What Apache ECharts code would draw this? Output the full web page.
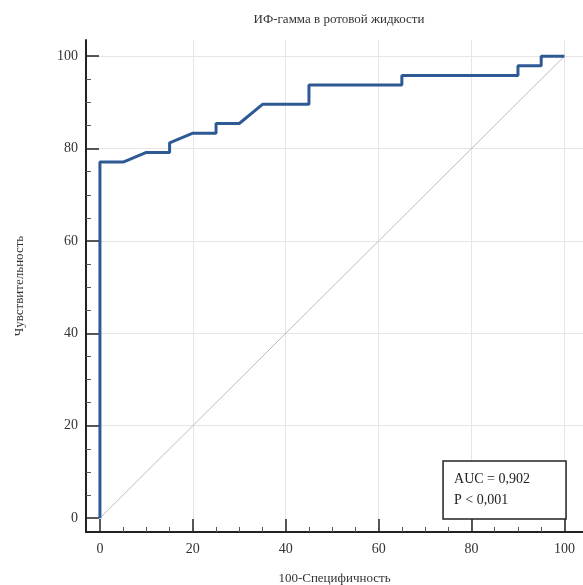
<!DOCTYPE html>
<html>
<head>
<meta charset="utf-8">
<script src="https://cdn.jsdelivr.net/npm/echarts@6/dist/echarts.min.js"></script>
<style>
  html, body { margin: 0; padding: 0; background: #fff; }
  #chart { width: 583px; height: 585px; }
</style>
</head>
<body>
<div id="chart"></div>
<script>
// ROC curve points: 100-Specificity (x) and Sensitivity (y)
var fpr = [0, 0, 5, 10, 15, 15, 20, 25, 25, 30, 35, 45, 45, 65, 65, 90, 90, 95, 95, 100];
var tpr = [0, 77.08, 77.08, 79.17, 79.17, 81.25, 83.33, 83.33, 85.42, 85.42, 89.58, 89.58, 93.75, 93.75, 95.83, 95.83, 97.92, 97.92, 100, 100];
var diagX = [0, 100];
var diagY = [0, 100];
var majorTicks = [0, 20, 40, 60, 80, 100];
var minorTicks = [5, 10, 15, 25, 30, 35, 45, 50, 55, 65, 70, 75, 85, 90, 95];
var gridTicks = [20, 40, 60, 80, 100];
var statLines = ['AUC = 0,902', 'P < 0,001'];

var serif = '"Liberation Serif", "DejaVu Serif", serif';

var rocData = [];
for (var i = 0; i < fpr.length; i++) {
    rocData.push([fpr[i], tpr[i]]);
}
var diagData = [];
for (var i = 0; i < diagX.length; i++) {
    diagData.push([diagX[i], diagY[i]]);
}

function mainAxis(isX) {
    return {
        type: 'value',
        min: -3,
        max: isX ? 104 : 103.5,
        position: isX ? 'bottom' : 'left',
        offset: 0,
        name: isX ? '100-Специфичность' : 'Чувствительность',
        nameLocation: 'middle',
        nameGap: isX ? 40 : 60,
        nameTextStyle: { fontFamily: serif, fontSize: 13, color: '#333' },
        axisLine: { show: true, onZero: false, lineStyle: { color: '#222', width: 2 } },
        axisTick: {
            show: true, inside: true, length: 13, customValues: majorTicks,
            lineStyle: { color: '#222', width: 1.5 }
        },
        axisLabel: {
            customValues: majorTicks, margin: isX ? 10 : 8,
            fontFamily: serif, fontSize: 14, color: '#333'
        },
        splitLine: { show: false }
    };
}

function minorAxis(isX) {
    return {
        type: 'value',
        min: -3,
        max: isX ? 104 : 103.5,
        position: isX ? 'bottom' : 'left',
        offset: 0,
        axisLine: { show: false, onZero: false },
        axisTick: {
            show: true, inside: true, length: 5, customValues: minorTicks,
            lineStyle: { color: '#555', width: 1 }
        },
        axisLabel: { show: false, customValues: minorTicks },
        splitLine: { show: false }
    };
}

function gridAxis(isX) {
    return {
        type: 'value',
        min: -3,
        max: isX ? 104 : 103.5,
        position: isX ? 'bottom' : 'left',
        offset: 0,
        axisLine: { show: false, onZero: false },
        axisTick: { show: false, customValues: gridTicks },
        axisLabel: { show: false, customValues: gridTicks },
        splitLine: { show: true, lineStyle: { color: '#e6e6e6', width: 1 } }
    };
}

var myChart = echarts.init(document.getElementById('chart'));
var option = {
    animation: false,
    backgroundColor: '#fff',
    title: [{
        text: 'ИФ-гамма в ротовой жидкости',
        left: 334, top: 8, textAlign: 'center',
        textStyle: { fontFamily: serif, fontSize: 13, fontWeight: 'normal', color: '#333' }
    }, {
        text: statLines.join('\n'),
        right: 17, bottom: 66,
        padding: [8, 36, 8, 11],
        borderColor: '#222', borderWidth: 1.5,
        backgroundColor: '#fff',
        textStyle: { fontFamily: serif, fontSize: 14, fontWeight: 'normal', color: '#222', lineHeight: 21 }
    }],
    grid: { left: 86, right: 0, top: 40, bottom: 53, outerBoundsMode: 'none', containLabel: false },
    xAxis: [gridAxis(true), minorAxis(true), mainAxis(true)],
    yAxis: [gridAxis(false), minorAxis(false), mainAxis(false)],
    series: [{
        type: 'line',
        xAxisIndex: 2, yAxisIndex: 2,
        data: diagData,
        symbol: 'none',
        lineStyle: { color: '#c4bcbc', width: 1 },
        silent: true
    }, {
        type: 'line',
        xAxisIndex: 2, yAxisIndex: 2,
        data: rocData,
        symbol: 'none',
        lineStyle: { color: '#2e5a94', width: 3 },
        z: 5
    }]
};
myChart.setOption(option);
</script>
</body>
</html>
